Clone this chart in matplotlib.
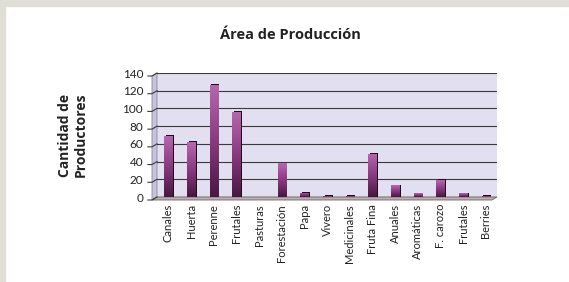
import matplotlib
matplotlib.use("Agg")
import matplotlib.pyplot as plt
import numpy as np
from matplotlib.patches import Polygon, Rectangle
from matplotlib.colors import LinearSegmentedColormap

categories = ["Canales", "Huerta", "Perenne", "Frutales", "Pasturas", "Forestación",
              "Papa", "Vivero", "Medicinales", "Fruta Fina", "Anuales", "Aromáticas",
              "F. carozo", "Frutales", "Berries"]
productores = [69, 62, 127, 96, 0, 38, 5, 1, 1, 49, 13, 4, 19, 4, 1]
y_ticks = [0, 20, 40, 60, 80, 100, 120, 140]

plt.rcParams["font.family"] = ["Lato", "DejaVu Sans"]

fig = plt.figure(figsize=(5.69, 2.82), dpi=100)
fig.patch.set_facecolor("white")
# grey frame on top and left
fig.patches.append(Rectangle((0, 1 - 6 / 282), 1, 6 / 282, transform=fig.transFigure,
                             color="#dfdfd8", zorder=0))
fig.patches.append(Rectangle((0, 0), 5 / 569, 1, transform=fig.transFigure,
                             color="#dfdfd8", zorder=0))

ax = fig.add_axes([157 / 569, 85 / 282, 340 / 569, 124 / 282])
ax.set_facecolor("#e1dff0")

# depth offset of the 3d look, in axes fraction
dxf, dyf = 5 / 340, 3 / 124
ax.add_patch(Polygon([(-dxf, -dyf), (0, 0), (0, 1), (-dxf, 1 - dyf)], closed=True,
                     transform=ax.transAxes, clip_on=False, facecolor="#c6c4da",
                     edgecolor="#8a88a0", lw=0.6, zorder=1))
ax.add_patch(Polygon([(-dxf, -dyf), (1 - dxf, -dyf), (1, 0), (0, 0)], closed=True,
                     transform=ax.transAxes, clip_on=False, facecolor="#bcb0b0",
                     edgecolor="#6e6464", lw=0.6, zorder=1))

for t in y_ticks:
    yf = t / 140
    ax.plot([0, 1], [yf, yf], transform=ax.transAxes, color="#3a3a3a", lw=0.8, zorder=1.5)
    ax.plot([-dxf - 0.012, -dxf, 0], [yf - dyf, yf - dyf, yf], transform=ax.transAxes,
            color="#3a3a3a", lw=0.8, clip_on=False, zorder=2)

x = np.arange(len(categories))
w = 0.36
cmap = LinearSegmentedColormap.from_list("bar", ["#4a1642", "#8a3a80", "#b866b0"])
grad = np.linspace(0, 1, 64).reshape(-1, 1)

ax.bar(x + 0.07, [v + 0.8 if v > 0 else 0 for v in productores], width=w,
       color="#1e0c1c", zorder=3)
bars = ax.bar(x, productores, width=w, color="#9a4a90", zorder=4)
for b, v in zip(bars, productores):
    if v <= 0:
        continue
    im = ax.imshow(grad, extent=[b.get_x(), b.get_x() + w, 0, v], origin="lower",
                   cmap=cmap, aspect="auto", zorder=5)
    im.set_clip_path(b)
ax.set_xlim(-0.5, len(categories) - 0.5)
ax.set_ylim(0, 140)

for s in ax.spines.values():
    s.set_visible(False)
ax.set_yticks(y_ticks)
ax.set_yticklabels([str(t) for t in y_ticks], fontsize=8.5, color="#222222")
ax.tick_params(axis="y", length=0, pad=10)
ax.set_xticks(x)
ax.set_xticklabels(categories, rotation=90, fontsize=8, color="#222222")
ax.tick_params(axis="x", length=0, pad=5)

fig.text(0.51, 1 - 35 / 282, "Área de Producción", ha="center", va="center",
         fontsize=10.5, fontweight="bold", family=["Open Sans", "DejaVu Sans"], color="#222222")
fig.text(73 / 569, 1 - 135 / 282, "Cantidad de\nProductores", ha="center", va="center",
         rotation=90, fontsize=10, fontweight="bold", family=["Open Sans", "DejaVu Sans"],
         color="#222222", linespacing=1.1)

fig.savefig("out.png", dpi=100)
